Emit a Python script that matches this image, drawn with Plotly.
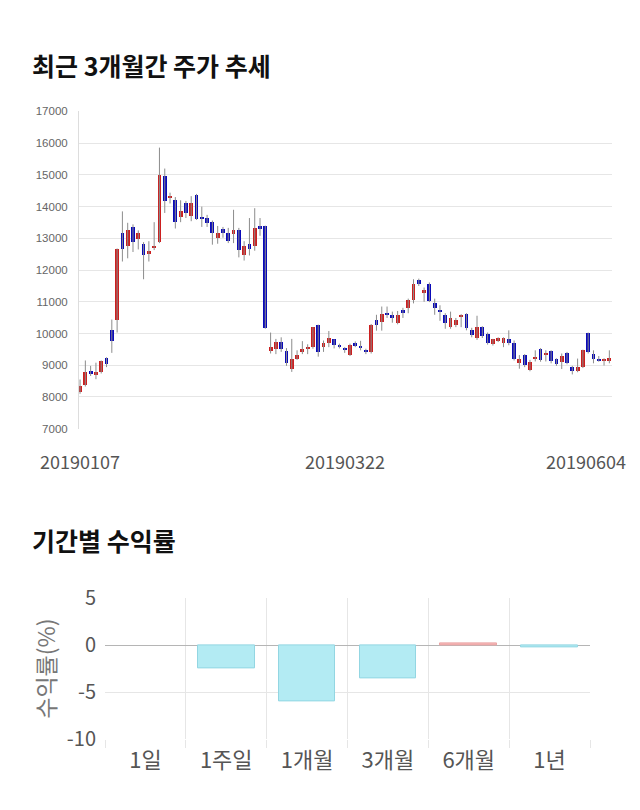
import pandas as pd
import plotly.graph_objects as go

# ---------------- data ----------------
holidays = ["2019-02-04", "2019-02-05", "2019-02-06", "2019-03-01", "2019-05-01", "2019-05-06"]
dates = [d.strftime("%Y%m%d") for d in pd.bdate_range("2019-01-07", "2019-06-04")
         if d.strftime("%Y-%m-%d") not in holidays]

open_ = [8150, 8370, 8800, 8700, 8780, 9210, 10100, 10400, 13150, 12750,
         13350, 12950, 12800, 12500, 12690, 12880, 14950, 14260, 14200, 13650,
         14100, 13690, 14350, 13640, 13640, 13500, 13000, 13290, 13150, 13110,
         13250, 12450, 12800, 12750, 13360, 13360, 9440, 9500, 9720, 9440,
         8860, 9190, 9390, 9500, 9550, 10250, 9570, 9700, 9800, 9630,
         9520, 9300, 9680, 9600, 9470, 9400, 10400, 10350, 10610, 10560,
         10310, 10740, 10790, 11050, 11660, 11250, 11540, 10950, 10740, 10560,
         10200, 10250, 10510, 10610, 10100, 9830, 10200, 9960, 9650, 9780,
         9680, 9800, 9700, 9070, 9300, 8840, 9170, 9500, 9300, 9440,
         9190, 9090, 9370, 8940, 8810, 8940, 10010, 9340, 9190, 9140, 9120]
high = [8550, 9150, 8980, 9080, 9150, 9250, 10440, 12680, 13850, 13490,
        13440, 13250, 12880, 12910, 13510, 15860, 15200, 14440, 14300, 14200,
        14180, 14330, 14400, 14000, 13740, 13560, 13390, 13360, 13330, 13900,
        13330, 12910, 13640, 13950, 13640, 13400, 10030, 9830, 9880, 9540,
        9830, 9470, 9760, 9660, 10200, 10280, 9780, 10080, 9820, 9680,
        9570, 9680, 9750, 9770, 9520, 10300, 10590, 10850, 10850, 10690,
        10710, 10810, 11100, 11710, 11730, 11450, 11610, 11100, 10890, 10640,
        10690, 10490, 10610, 10640, 10180, 10560, 10230, 10030, 9830, 9880,
        9880, 10100, 9780, 9320, 9350, 9170, 9470, 9540, 9470, 9470,
        9220, 9370, 9420, 8980, 9210, 9490, 10030, 9470, 9290, 9220, 9470]
low = [8100, 8330, 8660, 8560, 8740, 8940, 9390, 10030, 12270, 12370,
       12570, 12650, 11710, 12270, 12630, 12850, 13800, 14100, 13310, 13510,
       13640, 13540, 13580, 13360, 13360, 12800, 12830, 13020, 12850, 12850,
       12400, 12300, 12460, 12610, 13080, 10150, 9370, 9350, 9420, 8980,
       8790, 9170, 9350, 9350, 9520, 9270, 9420, 9570, 9530, 9530,
       9390, 9290, 9570, 9470, 9350, 9370, 10090, 10090, 10490, 10340,
       10290, 10490, 10640, 10950, 11500, 11000, 10990, 10590, 10400, 10150,
       10150, 10200, 10200, 10100, 9880, 9800, 9860, 9650, 9620, 9730,
       9570, 9630, 9150, 8890, 8940, 8810, 9120, 9110, 9120, 9060,
       8980, 8880, 9030, 8710, 8780, 8910, 9370, 9060, 9110, 8990, 9060]
close = [8330, 8760, 8740, 8760, 9120, 9030, 9750, 12650, 12660, 13250,
         12870, 13150, 12450, 12600, 12760, 14970, 14150, 14320, 13510, 13850,
         13800, 14100, 13610, 13600, 13460, 13150, 13150, 13170, 12910, 13240,
         12610, 12750, 12660, 13300, 13310, 10150, 9570, 9730, 9500, 9070,
         9190, 9300, 9500, 9520, 10180, 9390, 9680, 9850, 9630, 9570,
         9470, 9620, 9600, 9520, 9390, 10250, 10240, 10610, 10570, 10460,
         10560, 10640, 11050, 11560, 11560, 11350, 11020, 10790, 10690, 10310,
         10460, 10410, 10560, 10150, 9930, 10200, 9900, 9680, 9800, 9830,
         9830, 9680, 9190, 9170, 8980, 9090, 9250, 9140, 9370, 9120,
         9010, 9270, 9060, 8810, 8940, 9470, 9390, 9170, 9150, 9190, 9220]

date_labels = ["20190107", "20190322", "20190604"]

periods = ["1일", "1주일", "1개월", "3개월", "6개월", "1년"]
returns = [0.0, -2.5, -6.0, -3.5, 0.2, -0.2]
ret_ticks = [-10, -5, 0, 5]

# ---------------- styles ----------------
W, H = 640, 810
RED, BLUE, WICK = "#cc1f1f", "#0a0ab8", "#8c8c8c"
POS_FILL, POS_LINE = "#f6b9b9", "#eba3a3"
NEG_FILL, NEG_LINE = "#b3ebf3", "#93d6e2"
FONT = "Noto Sans CJK KR"

def px_x(p):
    return p / W

def px_y(p):
    return 1 - p / H

fig = go.Figure()

n = min(len(dates), len(open_))
xs = list(range(n))

# wicks
wx, wy = [], []
for i in range(n):
    wx += [xs[i], xs[i], None]
    wy += [low[i], high[i], None]
fig.add_trace(go.Scatter(x=wx, y=wy, mode="lines", line=dict(color=WICK, width=1),
                         hoverinfo="skip", showlegend=False, xaxis="x", yaxis="y"))

# bodies
base = [min(o, c) for o, c in zip(open_[:n], close[:n])]
height = [max(abs(c - o), 40) for o, c in zip(open_[:n], close[:n])]
cols = [RED if c > o else BLUE for o, c in zip(open_[:n], close[:n])]
fig.add_trace(go.Bar(x=xs, y=height, base=base, marker=dict(color=cols, line=dict(width=0)),
                     width=0.72, showlegend=False, xaxis="x", yaxis="y"))

# returns bars
bcols = [POS_FILL if v > 0 else (NEG_FILL if v < 0 else "rgba(0,0,0,0)") for v in returns]
blines = [POS_LINE if v > 0 else (NEG_LINE if v < 0 else "rgba(0,0,0,0)") for v in returns]
fig.add_trace(go.Bar(x=periods, y=returns, marker=dict(color=bcols, line=dict(color=blines, width=1)),
                     width=0.7, showlegend=False, xaxis="x2", yaxis="y2"))

grid = "#e6e6e6"
fig.update_layout(
    width=W, height=H, margin=dict(l=0, r=0, t=0, b=0),
    paper_bgcolor="white", plot_bgcolor="white",
    barmode="overlay", bargap=0,
    font=dict(family=FONT, color="#555"),
    xaxis=dict(domain=[px_x(79), px_x(612)], range=[-0.2, n - 1 + 0.5],
               showticklabels=False, showgrid=False, zeroline=False,
               showline=False, fixedrange=True),
    yaxis=dict(domain=[px_y(428), px_y(99)], range=[7000, 17000], dtick=1000,
               tickformat="d", gridcolor=grid, gridwidth=1, zeroline=False,
               showline=True, linecolor="#dddddd", linewidth=1,
               tickfont=dict(family="Liberation Sans", size=11.5, color="#666"),
               ticklabelstandoff=8),
    xaxis2=dict(domain=[px_x(105), px_x(590)], anchor="y2", type="category",
                range=[-0.5, 5.5], tickson="boundaries", showgrid=True, gridcolor=grid,
                ticks="outside", ticklen=8, tickcolor=grid, ticklabelstandoff=6,
                tickfont=dict(size=22, color="#555"), showline=False, zeroline=False),
    yaxis2=dict(domain=[px_y(750), px_y(604)], anchor="x2", range=[-10, 5],
                tickvals=ret_ticks, ticktext=[str(v) for v in ret_ticks],
                gridcolor=grid, zeroline=True, zerolinecolor="#b5b5b5", zerolinewidth=1,
                tickfont=dict(size=20, color="#555"), ticklabelstandoff=8, showline=False),
)

ann = [
    dict(text="<b>최근 3개월간 주가 추세</b>", x=px_x(30), y=px_y(51), xref="paper", yref="paper",
         xanchor="left", yanchor="middle", showarrow=False, font=dict(size=25, color="#111")),
    dict(text="<b>기간별 수익률</b>", x=px_x(30), y=px_y(543), xref="paper", yref="paper",
         xanchor="left", yanchor="middle", showarrow=False, font=dict(size=25, color="#111")),
    dict(text="수익률(%)", x=px_x(45), y=px_y(677), xref="paper", yref="paper", textangle=-90,
         xanchor="center", yanchor="middle", showarrow=False, font=dict(size=23, color="#777")),
]
for k, lab in enumerate(date_labels):
    if lab in dates[:n]:
        idx = dates.index(lab)
        last = k == len(date_labels) - 1
        ann.append(dict(text=lab, x=xs[idx], xref="x", y=px_y(462), yref="paper",
                        xanchor="right" if last else "center", yanchor="middle",
                        xshift=19 if last else 0, showarrow=False,
                        font=dict(size=18, color="#555")))
fig.update_layout(annotations=ann)

fig.write_html("out.html")
